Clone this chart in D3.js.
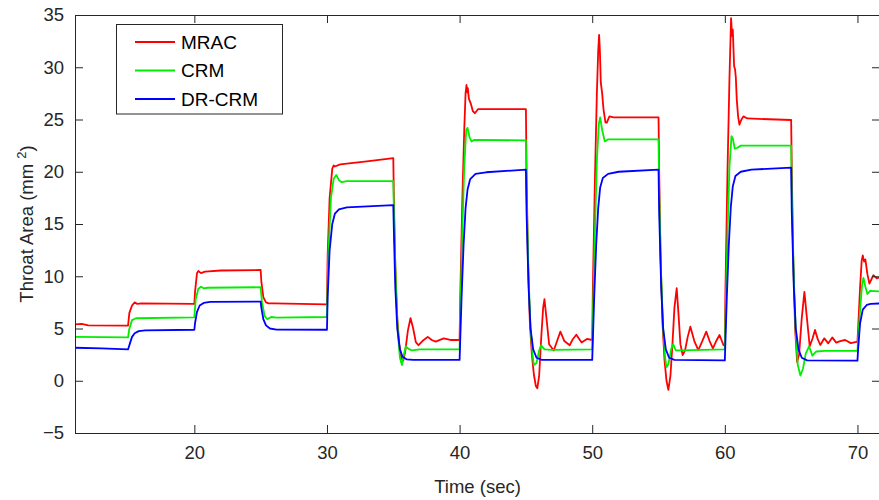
<!DOCTYPE html>
<html>
<head>
<meta charset="utf-8">
<script src="https://cdn.jsdelivr.net/npm/d3@7"></script>
<style>
  html, body { margin: 0; padding: 0; background: #fff; }
  svg { display: block; font-family: "Liberation Sans", Arial, Helvetica, sans-serif; }
</style>
</head>
<body>
<svg id="chart" width="879" height="500"></svg>
<script>
// Throat area responses [time (s), area (mm^2)]
const mrac = [
  [11.0,5.4],[11.5,5.45],[12.0,5.3],[15.0,5.27],[15.1,6.5],[15.3,7.2],[15.5,7.5],[15.7,7.35],[16.0,7.4],[20.0,7.35],
  [20.05,8.5],[20.2,10.3],[20.3,10.5],[20.5,10.3],[20.8,10.45],[22.0,10.55],[25.0,10.6],
  [25.05,9.5],[25.2,8.0],[25.4,7.5],[25.6,7.4],[26.0,7.4],[30.0,7.3],
  [30.05,12],[30.2,17.5],[30.4,20.3],[30.5,20.6],[30.6,20.5],[31.0,20.7],[33.0,21.0],[35.0,21.3],
  [35.05,17],[35.15,11],[35.3,6],[35.45,3.5],[35.6,2.2],[35.75,1.9],[35.9,2.8],[36.1,4.8],[36.3,6.0],[36.5,5.0],[36.7,3.7],
  [36.9,3.4],[37.2,3.8],[37.6,4.2],[37.9,3.9],[38.2,3.75],[38.8,4.05],[39.3,3.9],[40.0,3.9],
  [40.05,8],[40.2,17],[40.35,24],[40.45,27.5],[40.52,28.3],[40.58,27.6],[40.62,28.0],[40.7,27.0],[40.85,26.5],[41.0,25.8],
  [41.15,25.6],[41.4,26.0],[45.0,26.0],
  [45.05,20],[45.15,12],[45.3,5.5],[45.45,2.5],[45.6,0.6],[45.75,-0.5],[45.86,-0.73],[46.0,0.5],[46.15,4.0],[46.3,7.0],
  [46.4,7.8],[46.55,6.0],[46.75,3.5],[47.1,2.9],[47.35,3.8],[47.6,4.7],[47.9,3.8],[48.3,3.4],[48.55,4.0],[48.8,4.4],
  [49.2,3.65],[49.6,4.0],[50.0,3.9],
  [50.05,9],[50.2,19],[50.35,27.5],[50.45,31.5],[50.52,33.1],[50.58,31.5],[50.65,28.5],[50.75,27.5],[50.85,26.0],[51.0,24.7],
  [51.1,24.7],[51.3,25.3],[51.6,25.2],[55.0,25.2],
  [55.05,20],[55.15,12],[55.3,5.5],[55.45,2.0],[55.6,0.0],[55.74,-0.88],[55.9,0.5],[56.05,3.5],[56.2,7.0],[56.37,8.85],
  [56.5,6.5],[56.65,3.5],[56.82,2.46],[57.0,2.9],[57.2,4.2],[57.4,5.17],[57.7,3.8],[58.0,2.94],[58.3,3.8],[58.6,4.7],
  [58.85,3.8],[59.1,3.1],[59.35,3.8],[59.6,4.38],[59.9,3.4],[60.0,3.5],
  [60.05,9],[60.2,20],[60.35,29],[60.47,34.7],[60.55,33.0],[60.6,33.6],[60.7,30.1],[60.77,29.8],[60.83,29.0],[60.9,26.9],
  [61.0,25.3],[61.1,24.5],[61.25,25.0],[61.4,25.3],[61.7,25.1],[65.0,24.95],
  [65.05,20],[65.15,12],[65.3,5.0],[65.45,1.8],[65.6,2.5],[65.8,6.0],[66.0,8.5],[66.15,6.5],[66.4,3.3],[66.6,4.0],
  [66.8,4.86],[67.0,4.0],[67.2,3.42],[67.5,4.06],[67.8,3.58],[68.1,4.15],[68.4,3.65],[68.7,3.8],[69.07,3.9],[69.5,3.6],[70.0,3.75],
  [70.05,5],[70.2,9],[70.32,11.5],[70.4,12.0],[70.5,11.4],[70.6,11.6],[70.75,10.2],[70.9,9.3],[71.05,9.7],[71.2,10.1],
  [71.45,9.8],[71.7,9.9]
];

const crm = [
  [11.0,4.2],[15.0,4.15],[15.1,5.0],[15.3,5.8],[15.6,5.98],[20.0,6.07],
  [20.1,7.8],[20.3,8.8],[20.5,9.0],[20.7,8.85],[21.0,8.9],[25.0,8.95],
  [25.1,7.5],[25.3,6.2],[25.5,5.9],[25.8,6.1],[26.2,6.05],[30.0,6.1],
  [30.1,12],[30.3,17.5],[30.5,19.3],[30.7,19.7],[30.9,19.2],[31.1,19.0],[31.5,19.1],[35.0,19.1],
  [35.05,16],[35.2,9],[35.35,4.5],[35.5,2.2],[35.65,1.5],[35.8,2.5],[35.95,3.3],[36.1,3.1],[36.4,2.9],[37.0,3.0],[40.0,3.0],
  [40.05,6],[40.2,14],[40.35,20.5],[40.5,24.0],[40.6,24.2],[40.75,23.3],[40.9,22.9],[41.1,23.05],[45.0,23.0],
  [45.05,18],[45.2,10],[45.35,5],[45.5,2.5],[45.6,1.5],[45.8,1.7],[46.0,2.9],[46.15,3.4],[46.4,3.0],[47.0,2.95],[50.0,3.0],
  [50.05,6],[50.2,14],[50.35,21],[50.5,24.6],[50.6,25.2],[50.75,24.0],[50.95,22.9],[51.2,23.1],[55.0,23.1],
  [55.05,18],[55.2,10],[55.35,5],[55.5,2.2],[55.6,1.3],[55.75,1.6],[55.95,3.0],[56.1,3.5],[56.3,2.9],[56.6,2.9],[60.0,3.0],
  [60.05,6],[60.2,14],[60.35,20.5],[60.5,23.4],[60.6,23.2],[60.75,22.2],[60.95,22.3],[61.2,22.5],[65.0,22.5],
  [65.05,18],[65.2,10],[65.35,4.5],[65.5,1.5],[65.7,0.5],[65.9,1.2],[66.1,2.6],[66.35,3.3],[66.6,2.4],[66.9,2.8],[67.5,2.85],[70.0,2.85],
  [70.05,4],[70.2,6.8],[70.35,9.2],[70.45,9.85],[70.6,9.0],[70.75,8.3],[70.95,8.6],[71.7,8.55]
];

const drcrm = [
  [11.0,3.16],[13.0,3.1],[15.0,3.0],[15.15,3.6],[15.3,4.2],[15.5,4.55],[15.8,4.75],[16.3,4.83],[20.0,4.88],
  [20.05,5.5],[20.2,6.6],[20.4,7.2],[20.7,7.45],[21.2,7.55],[25.0,7.57],
  [25.05,7.0],[25.2,5.9],[25.4,5.3],[25.7,5.0],[26.2,4.9],[30.0,4.88],
  [30.05,8],[30.2,12.5],[30.4,15.0],[30.6,16.0],[30.9,16.4],[31.5,16.6],[35.0,16.8],
  [35.05,14],[35.15,9],[35.3,5.0],[35.5,3.0],[35.7,2.3],[36.0,2.05],[36.5,2.0],[40.0,2.0],
  [40.05,4],[40.15,8],[40.3,13],[40.45,16.5],[40.6,18.3],[40.8,19.3],[41.2,19.8],[42.0,19.95],[45.0,20.2],
  [45.05,16],[45.2,9],[45.35,5],[45.55,3],[45.8,2.2],[46.2,2.0],[50.0,2.0],
  [50.05,4],[50.15,8],[50.3,13],[50.45,16.5],[50.6,18.5],[50.8,19.4],[51.2,19.8],[52.0,20.0],[55.0,20.2],
  [55.05,16],[55.2,9],[55.35,5],[55.55,3],[55.8,2.2],[56.2,2.0],[60.0,1.95],
  [60.05,4],[60.15,8],[60.3,13],[60.45,16.6],[60.6,18.6],[60.8,19.6],[61.2,20.0],[62.0,20.2],[65.0,20.4],
  [65.05,16],[65.2,9],[65.35,5],[65.55,3],[65.8,2.2],[66.2,1.95],[70.0,1.92],
  [70.05,3],[70.2,5.5],[70.4,6.8],[70.7,7.25],[71.0,7.35],[71.7,7.4]
];

const seriesNames = ["MRAC", "CRM", "DR-CRM"];
const seriesColors = ["#ff0000", "#00ee00", "#0000ff"];
const xTicks = [20, 30, 40, 50, 60, 70];
const yTicks = [-5, 0, 5, 10, 15, 20, 25, 30, 35];

const svg = d3.select("#chart");
const plotLeft = 75, plotRight = 880, plotTop = 15, plotBottom = 433;
const axisColor = "#262626";

const x = d3.scaleLinear().domain([11, 71.7]).range([plotLeft, plotRight]);
const y = d3.scaleLinear().domain([-5, 35]).range([plotBottom, plotTop]);

svg.append("defs").append("clipPath").attr("id", "plotClip")
  .append("rect").attr("x", plotLeft).attr("y", plotTop)
  .attr("width", plotRight - plotLeft).attr("height", plotBottom - plotTop);

// data lines
const line = d3.line().x(d => x(d[0])).y(d => y(d[1]));
const plot = svg.append("g").attr("clip-path", "url(#plotClip)");
[mrac, crm, drcrm].forEach((data, i) => {
  plot.append("path").datum(data)
    .attr("fill", "none")
    .attr("stroke", seriesColors[i])
    .attr("stroke-width", 1.8)
    .attr("stroke-linejoin", "round")
    .attr("d", line);
});

// axes (ticks pointing inward)
const tickFont = 18.5;
const gx = svg.append("g").attr("transform", `translate(0,${plotBottom})`)
  .call(d3.axisBottom(x).tickValues(xTicks).tickSizeInner(-8).tickSizeOuter(0).tickPadding(14));
const gy = svg.append("g").attr("transform", `translate(${plotLeft},0)`)
  .call(d3.axisLeft(y).tickValues(yTicks).tickSizeInner(-8).tickSizeOuter(0).tickPadding(14));
const gxTop = svg.append("g").attr("transform", `translate(0,${plotTop})`)
  .call(d3.axisTop(x).tickValues(xTicks).tickSizeInner(-8).tickSizeOuter(0).tickFormat(""));
const gyRight = svg.append("g").attr("transform", `translate(${plotRight},0)`)
  .call(d3.axisRight(y).tickValues(yTicks).tickSizeInner(-8).tickSizeOuter(0).tickFormat(""));

[gx, gy, gxTop, gyRight].forEach(g => {
  g.select(".domain").attr("stroke", axisColor).attr("stroke-width", 1);
  g.selectAll(".tick line").attr("stroke", axisColor).attr("stroke-width", 1);
  g.selectAll(".tick text").attr("fill", axisColor).attr("font-size", tickFont)
    .attr("font-family", "Liberation Sans, Arial, sans-serif");
});
gy.selectAll(".tick text").attr("dx", "3");
gx.selectAll(".tick text").attr("dy", "0.65em");

// axis titles
svg.append("text")
  .attr("x", (plotLeft + plotRight) / 2).attr("y", 493)
  .attr("text-anchor", "middle").attr("fill", axisColor).attr("font-size", tickFont)
  .text("Time (sec)");

const yTitle = svg.append("text")
  .attr("transform", `translate(33,${(plotTop + plotBottom) / 2}) rotate(-90)`)
  .attr("text-anchor", "middle").attr("fill", axisColor).attr("font-size", tickFont);
yTitle.append("tspan").text("Throat Area (mm ");
yTitle.append("tspan").attr("font-size", 13).attr("dy", -7).text("2");
yTitle.append("tspan").attr("dy", 7).text(")");

// legend
const legend = svg.append("g");
legend.append("rect")
  .attr("x", 116.5).attr("y", 24.5).attr("width", 166).attr("height", 89.5)
  .attr("fill", "#fff").attr("stroke", axisColor).attr("stroke-width", 1);
seriesNames.forEach((name, i) => {
  const ry = 42 + i * 28.5;
  legend.append("line")
    .attr("x1", 135).attr("x2", 175).attr("y1", ry).attr("y2", ry)
    .attr("stroke", seriesColors[i]).attr("stroke-width", 1.8);
  legend.append("text")
    .attr("x", 181).attr("y", ry).attr("dy", "0.36em")
    .attr("fill", "#000").attr("font-size", 19)
    .text(name);
});
</script>
</body>
</html>
